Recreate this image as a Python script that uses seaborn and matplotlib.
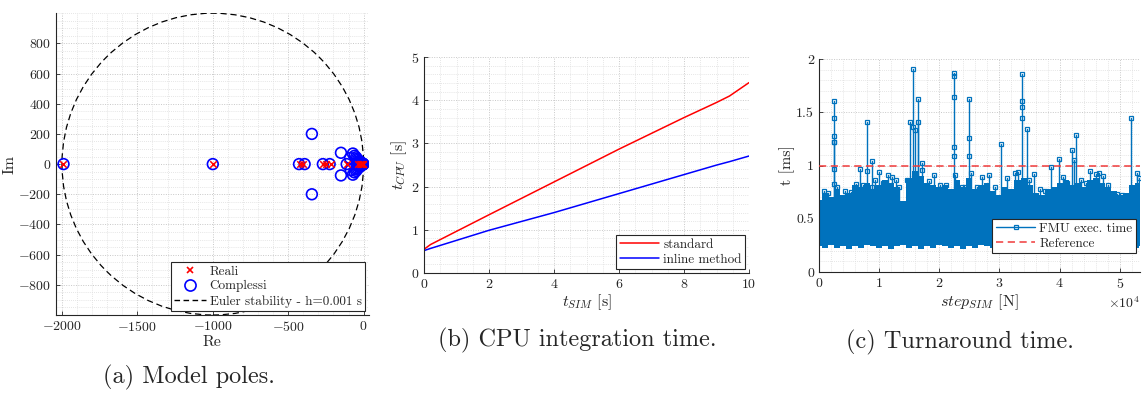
import numpy as np
import pandas as pd
import matplotlib
matplotlib.use("Agg")
import matplotlib.pyplot as plt
from matplotlib.patches import Circle
from matplotlib.ticker import AutoMinorLocator, ScalarFormatter
from matplotlib.lines import Line2D
import seaborn as sns

# ---------------- data ----------------
# (a) model poles
real_poles = [-1990, -1000, -419, -402, -270, -247, -219, -112, -40, -25, -15, -8, -3, -1]
pole_re = [-1990, -1000, -428, -391, -270, -225, -343, -343, -150, -150, -71, -71,
           -60, -60, -50, -50, -45, -45, -38, -38, -30, -30, -25, -25, -20, -20,
           -15, -15, -10, -10, -6, -6, -3, -3, -1, -112, -40, -25, -15, -8, -90, -85]
pole_im = [0, 0, 0, 0, 0, 0, 200, -200, 75, -75, 70, -70,
           55, -55, 45, -45, 35, -35, 28, -28, 20, -20, 15, -15, 12, -12,
           8, -8, 5, -5, 3, -3, 2, -2, 0, 0, 0, 0, 0, 0, 40, -40]
h_step = 0.001

# (b) CPU integration time
t_sim = [0, 0.2, 2, 4, 6, 8, 9, 9.4, 10]
t_std = [0.55, 0.66, 1.35, 2.11, 2.87, 3.60, 3.95, 4.10, 4.41]
t_inl = [0.52, 0.57, 0.99, 1.40, 1.84, 2.28, 2.50, 2.58, 2.71]

# (c) turnaround time: dense band envelope (x in steps)
env_x = [0, 1000, 2000, 3000, 4000, 5000, 6000, 7000, 8000, 9000, 10000, 11000, 12000,
         13000, 14000, 15000, 16000, 17000, 18000, 19000, 20000, 21000, 22000, 23000,
         24000, 25000, 26000, 27000, 28000, 29000, 30000, 31000, 32000, 33000, 34000,
         35000, 36000, 37000, 38000, 39000, 40000, 41000, 42000, 43000, 44000, 45000,
         46000, 47000, 48000, 49000, 50000, 51000, 52000, 53000, 53300]
env_hi = [0.68, 0.74, 0.70, 0.78, 0.72, 0.74, 0.82, 0.80, 0.84, 0.78, 0.82, 0.86, 0.84,
          0.80, 0.67, 0.88, 0.95, 0.90, 0.84, 0.82, 0.80, 0.82, 0.78, 0.86,
          0.80, 0.88, 0.78, 0.82, 0.84, 0.76, 0.72, 0.80, 0.78, 0.86, 0.88,
          0.82, 0.74, 0.72, 0.78, 0.80, 0.84, 0.86, 0.82, 0.84, 0.80, 0.86,
          0.88, 0.84, 0.80, 0.76, 0.72, 0.74, 0.82, 0.84, 0.84]
env_lo = [0.24, 0.23, 0.25, 0.23, 0.24, 0.22, 0.24, 0.23, 0.25, 0.24, 0.23, 0.24, 0.22,
          0.24, 0.25, 0.23, 0.24, 0.22, 0.24, 0.23, 0.25, 0.24, 0.23, 0.24,
          0.22, 0.24, 0.23, 0.25, 0.24, 0.23, 0.24, 0.22, 0.24, 0.23, 0.24,
          0.25, 0.23, 0.24, 0.22, 0.24, 0.23, 0.24, 0.25, 0.23, 0.24, 0.22,
          0.24, 0.23, 0.25, 0.24, 0.23, 0.24, 0.22, 0.23, 0.24]

# spikes: x position, values visited up to the peak
spike_x = [800, 2500, 2600, 6900, 8000, 8800, 10000, 11500, 15100, 15700, 16000, 16400,
           16500, 17200, 19100, 22500, 22600, 25000, 25200, 27100, 28200, 30200, 31200,
           32600, 33700, 34500, 35800, 38600, 39900, 42100, 42400, 42700, 45000, 46500,
           48000, 51800, 52900,
           1500, 3100, 4400, 5300, 6100, 7300, 9300, 10700, 12100, 12800, 13300, 14700,
           18300, 20200, 21100, 23800, 24200, 26300, 29300, 33100, 34900, 36800, 37600,
           40600, 41300, 43500, 44300, 46100, 47200, 49500, 50400, 53200]
spike_v = [[0.76], [1.61, 1.45, 1.28, 1.22, 0.97], [1.22, 0.83], [0.97], [1.41, 0.95],
           [1.04, 0.80], [0.94], [0.91], [1.41], [1.91, 1.36], [1.33], [1.41],
           [1.62], [1.02, 0.96], [0.91], [1.87, 1.84, 1.64, 1.17, 1.09], [0.91],
           [1.62, 1.26, 1.09], [0.93], [0.89], [0.91], [1.20], [0.88],
           [0.93], [1.86, 1.61, 1.55, 1.45], [1.34], [0.92], [0.99], [1.06], [1.15],
           [1.05], [1.29], [0.95], [0.93], [0.82], [1.45], [0.93],
           [0.74], [0.80], [0.76], [0.75], [0.83], [0.82], [0.86], [0.84], [0.89],
           [0.86], [0.80], [0.86], [0.85], [0.82], [0.82], [0.80], [0.80], [0.80],
           [0.80], [0.94], [0.86], [0.78], [0.76], [0.89], [0.84], [0.86], [0.84],
           [0.92], [0.90], [0.73], [0.72], [0.88]]
ref_level = 1.0

# ---------------- style ----------------
sns.set_style("ticks")
plt.rcParams["font.family"] = ["cmr10", "DejaVu Serif"]
plt.rcParams["mathtext.fontset"] = "cm"
plt.rcParams["axes.unicode_minus"] = False
plt.rcParams["axes.formatter.use_mathtext"] = True

TXT = "#262626"
GRID = "#c8c8c8"
BLUE = "#0072BD"
TICK_FS = 10
LAB_FS = 11.5
LEG_FS = 9.5
CAP_FS = 17.5

fig = plt.figure(figsize=(11.42, 3.94), dpi=100)
axa = fig.add_axes([0.049, 0.2005, 0.274, 0.766])
axb = fig.add_axes([0.3713, 0.307, 0.2846, 0.548])
axc = fig.add_axes([0.717, 0.3096, 0.281, 0.5406])


def style_ax(ax, xminor, yminor):
    for s in ["top", "right"]:
        ax.spines[s].set_visible(False)
    for s in ["left", "bottom"]:
        ax.spines[s].set_color(TXT)
        ax.spines[s].set_linewidth(0.8)
    ax.xaxis.set_minor_locator(AutoMinorLocator(xminor))
    ax.yaxis.set_minor_locator(AutoMinorLocator(yminor))
    ax.tick_params(which="both", direction="in", colors=TXT, labelsize=TICK_FS, width=0.6)
    ax.tick_params(which="major", length=3)
    ax.tick_params(which="minor", length=0)
    ax.grid(True, which="major", color=GRID, linestyle=(0, (1, 1.5)), linewidth=0.7)
    ax.grid(True, which="minor", color="#dddddd", linestyle=(0, (1, 1.5)), linewidth=0.6)
    ax.set_axisbelow(True)


def matlab_legend(ax, **kw):
    leg = ax.legend(fancybox=False, framealpha=1, edgecolor=TXT, fontsize=LEG_FS,
                    borderpad=0.25, labelspacing=0.2, handletextpad=0.3,
                    borderaxespad=0.3, **kw)
    leg.get_frame().set_linewidth(0.8)
    return leg

# ---------------- (a) ----------------
style_ax(axa, 5, 4)
axa.add_patch(Circle((-1 / h_step, 0), 1 / h_step, fill=False, ls=(0, (5, 3)),
                     color="black", lw=0.9, zorder=2))
dfc = pd.DataFrame({"re": pole_re, "im": pole_im})
sns.scatterplot(data=dfc, x="re", y="im", ax=axa, marker="o", s=60,
                facecolor="none", edgecolor="blue", linewidth=1.2, zorder=3)
dfr = pd.DataFrame({"re": real_poles, "im": [0] * len(real_poles)})
sns.scatterplot(data=dfr, x="re", y="im", ax=axa, marker="x", s=22,
                color="red", linewidth=1.1, zorder=4)
axa.set_xlim(-2040, 35)
axa.set_ylim(-1000, 1000)
axa.set_xticks([-2000, -1500, -1000, -500, 0])
axa.set_yticks(np.arange(-800, 801, 200))
axa.set_xlabel("Re", fontsize=LAB_FS, color=TXT, labelpad=1)
axa.set_ylabel("Im", fontsize=LAB_FS, color=TXT, labelpad=1)
ha = [Line2D([], [], ls="none", marker="x", color="red", ms=5, mew=1.2),
      Line2D([], [], ls="none", marker="o", mfc="none", mec="blue", ms=8, mew=1.2),
      Line2D([], [], ls=(0, (4, 2.5)), color="black", lw=1)]
matlab_legend(axa, handles=ha, labels=["Reali", "Complessi", "Euler stability - h=0.001 s"],
              loc="lower right", handlelength=2.4)

# ---------------- (b) ----------------
style_ax(axb, 4, 5)
dfb = pd.DataFrame({"t": t_sim * 2, "cpu": t_std + t_inl,
                    "method": ["standard"] * len(t_sim) + ["inline method"] * len(t_sim)})
sns.lineplot(data=dfb, x="t", y="cpu", hue="method", palette=["red", "blue"],
             ax=axb, linewidth=1.1)
axb.set_xlim(0, 10)
axb.set_ylim(0, 5)
axb.set_xticks(np.arange(0, 11, 2))
axb.set_yticks(np.arange(0, 6, 1))
axb.set_xlabel(r"$t_{SIM}$ [s]", fontsize=LAB_FS, color=TXT, labelpad=1)
axb.set_ylabel(r"$t_{CPU}$ [s]", fontsize=LAB_FS, color=TXT, labelpad=1)
hb, lb = axb.get_legend_handles_labels()
matlab_legend(axb, handles=hb, labels=lb, loc="lower right", handlelength=3.0)

# ---------------- (c) ----------------
style_ax(axc, 5, 5)
axc.fill_between(env_x, env_lo, env_hi, color=BLUE, lw=0, step="mid", zorder=2)
base = min(env_hi)
for sx, vals in zip(spike_x, spike_v):
    ys = [base] + sorted(vals)
    axc.plot([sx] * len(ys), ys, color=BLUE, lw=1.0, zorder=3)
    axc.plot([sx] * len(vals), vals, ls="none", marker="s", ms=3.5, mfc="none",
             mec=BLUE, mew=0.9, zorder=4)
axc.axhline(ref_level, color="#f03c3c", ls=(0, (4, 2.5)), lw=1.3, alpha=0.85, zorder=5)
axc.set_xlim(0, 53300)
axc.set_ylim(0, 2)
axc.set_xticks(np.arange(0, 50001, 10000))
axc.set_yticks(np.arange(0, 2.01, 0.5))
fmt = ScalarFormatter(useMathText=True)
fmt.set_powerlimits((0, 0))
axc.xaxis.set_major_formatter(fmt)
axc.yaxis.set_major_formatter(matplotlib.ticker.FuncFormatter(lambda v, p: f"{v:g}"))
axc.xaxis.get_offset_text().set_fontsize(TICK_FS)
axc.xaxis.get_offset_text().set_color(TXT)
axc.set_xlabel(r"$step_{SIM}$ [N]", fontsize=LAB_FS, color=TXT, labelpad=1)
axc.set_ylabel("t [ms]", fontsize=LAB_FS, color=TXT, labelpad=1)
hc = [Line2D([], [], color=BLUE, lw=1, marker="s", ms=3.5, mfc="none", mew=0.9),
      Line2D([], [], color="#f03c3c", ls=(0, (4, 2.5)), lw=1.3, alpha=0.85)]
matlab_legend(axc, handles=hc, labels=["FMU exec. time", "Reference"],
              loc="lower right", handlelength=3.0, bbox_to_anchor=(1.0, 0.07))

# ---------------- captions ----------------
fig.text(189 / 1142, 1 - 377 / 394, "(a) Model poles.", ha="center", va="center", fontsize=CAP_FS)
fig.text(577 / 1142, 1 - 340 / 394, "(b) CPU integration time.", ha="center", va="center", fontsize=CAP_FS)
fig.text(960 / 1142, 1 - 342 / 394, "(c) Turnaround time.", ha="center", va="center", fontsize=CAP_FS)

fig.savefig("out.png", dpi=100)
